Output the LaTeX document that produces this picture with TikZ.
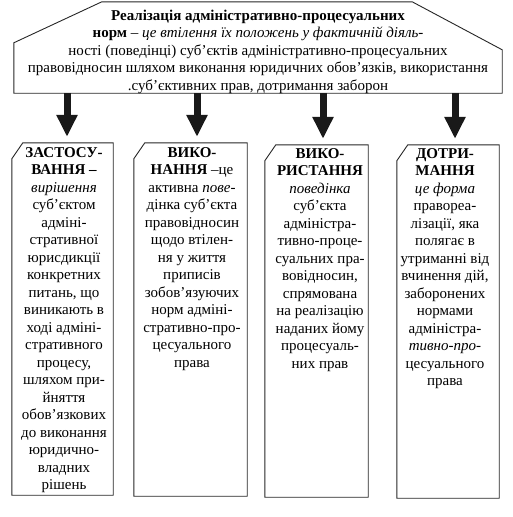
\documentclass[tikz,border=0pt]{standalone}
\usepackage{fontspec}
\setmainfont{Liberation Serif}
\usetikzlibrary{arrows.meta}
\begin{document}
\begin{tikzpicture}[x=1pt,y=-1pt,
  outline/.style={draw=black!85, line width=0.9pt},
  frame/.style={rectangle, inner sep=0pt, minimum width=#1},
  txt/.style={inner sep=0pt, align=center, font=\fontsize{15}{17.5}\selectfont, anchor=north},
  arr/.style={line width=7pt, draw=black!90, -{Triangle[width=20pt,length=22pt]}, shorten >=6pt}
]
\useasboundingbox (0,0) rectangle (512,517);
% top block
\node[frame=488pt, minimum height=91pt] (top) at (258,47.5) {};
\draw[outline] (top.south west) -- ([yshift=-41pt]top.north west) -- ([xshift=88pt]top.north west)
  -- ([xshift=-90pt]top.north east) -- ([yshift=-48pt]top.north east) -- (top.south east) -- cycle;
\node[txt] (tt) at (258,9.5) {\textbf{Реалізація адміністративно-процесуальних}\\
\textbf{норм} – \textit{це втілення їх положень у фактичній діяль-}\\
ності (поведінці) суб’єктів адміністративно-процесуальних\\
правовідносин шляхом виконання юридичних обов’язків, використання\\
.суб’єктивних прав, дотримання заборон};
% lower boxes
\node[frame=101pt, minimum height=352pt] (b1) at (62.5,319) {};
\node[frame=113pt, minimum height=353pt] (b2) at (190.5,319.5) {};
\node[frame=103pt, minimum height=352pt] (b3) at (316.5,321) {};
\node[frame=102pt, minimum height=353pt] (b4) at (448,321.5) {};
\foreach \b in {b1,b2,b3,b4}{
  \draw[outline] ([yshift=-16pt]\b.north west) -- ([xshift=11pt]\b.north west) -- (\b.north east)
    -- (\b.south east) -- (\b.south west) -- cycle;
}
% arrows
\coordinate (a1) at ([xshift=4.5pt]b1.north);
\coordinate (a2) at ([xshift=6.5pt]b2.north);
\coordinate (a3) at ([xshift=6.5pt]b3.north);
\coordinate (a4) at ([xshift=7pt]b4.north);
\foreach \a in {a1,a2,a3,a4}{
  \draw[arr] (\a |- top.south) -- (\a);
}
% texts
\node[txt] (t1) at (64,147) {\textbf{ЗАСТОСУ-}\\ \textbf{ВАННЯ –}\\ \textit{вирішення}\\ суб’єктом\\ адміні-\\ стративної\\ юрисдикції\\ конкретних\\ питань, що\\ виникають в\\ ході адміні-\\ стративного\\ процесу,\\ шляхом при-\\ йняття\\ обов’язкових\\ до виконання\\ юридично-\\ владних\\ рішень};
\node[txt] (t2) at (192,147) {\textbf{ВИКО-}\\ \textbf{НАННЯ} –це\\ активна \textit{пове-}\\ дінка суб’єкта\\ правовідносин\\ щодо втілен-\\ ня у життя\\ приписів\\ зобов’язуючих\\ норм адміні-\\ стративно-про-\\ цесуального\\ права};
\node[txt] (t3) at (320,148) {\textbf{ВИКО-}\\ \textbf{РИСТАННЯ}\\ \textit{поведінка}\\ суб’єкта\\ адміністра-\\ тивно-проце-\\ суальних пра-\\ вовідносин,\\ спрямована\\ на реалізацію\\ наданих йому\\ процесуаль-\\ них прав};
\node[txt] (t4) at (445,148) {\textbf{ДОТРИ-}\\ \textbf{МАННЯ}\\ \textit{це форма}\\ правореа-\\ лізації, яка\\ полягає в\\ утриманні від\\ вчинення дій,\\ заборонених\\ нормами\\ адміністра-\\ \textit{тивно-про-}\\ цесуального\\ права};
\end{tikzpicture}
\end{document}
